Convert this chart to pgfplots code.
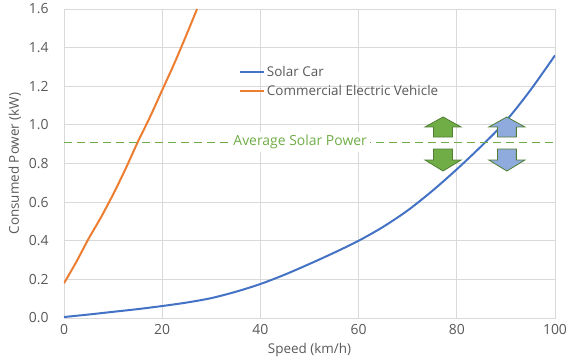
\documentclass[border=0pt]{standalone}
\usepackage{pgfplots}
\pgfplotsset{compat=1.18}
\usepackage{fontspec}
\setmainfont{Open Sans}
\definecolor{cblue}{HTML}{4472C4}
\definecolor{corange}{HTML}{ED7D31}
\definecolor{cgreen}{HTML}{70AD47}
\definecolor{cgreendark}{HTML}{507E32}
\definecolor{clblue}{HTML}{8FAADC}
\definecolor{ctext}{HTML}{595959}
\definecolor{cgrid}{HTML}{D9D9D9}
\begin{document}
\begin{tikzpicture}
\useasboundingbox (-64bp,-46bp) rectangle (519bp,318bp);
\begin{axis}[
  at={(0,0)}, anchor=south west,
  scale only axis, width=491bp, height=309bp,
  xmin=0, xmax=100, ymin=0, ymax=1.6,
  xtick={0,20,...,100}, ytick={0,0.2,...,1.6},
  yticklabel style={/pgf/number format/fixed,/pgf/number format/fixed zerofill,/pgf/number format/precision=1},
  /pgf/number format/assume math mode=true,
  tick label style={font=\fontsize{14}{16}\selectfont, text=ctext},
  xticklabel style={yshift=-3bp},
  yticklabel style={xshift=-12bp},
  major tick length=0pt,
  grid=major, grid style={cgrid, line width=0.9bp},
  axis line style={draw=cgrid, line width=0.9bp},
  xlabel={Speed (km/h)}, ylabel={Consumed Power (kW)},
  label style={font=\fontsize{13.5}{15}\selectfont, text=ctext},
  xlabel style={yshift=-2bp},
  ylabel style={yshift=1bp},
  legend style={at={(axis description cs:0.356,0.827)}, anchor=north west, draw=none, fill=none,
    font=\fontsize{13.5}{15}\selectfont, text=ctext, row sep=3bp,
    legend cell align=left, inner xsep=0pt},
  legend image code/.code={\draw[#1] (0bp,0bp) -- (24bp,0bp);},
  clip=true,
]
\addplot[cblue, line width=2bp, smooth] coordinates {
(0,0.005) (5,0.018) (10,0.032) (15,0.046) (20,0.062) (25,0.080) (30,0.103) (35,0.136) (40,0.176) (45,0.225) (50,0.28) (55,0.338) (60,0.40) (65,0.472) (70,0.557) (75,0.658) (80,0.77) (85,0.89) (90,1.02) (95,1.18) (100,1.36)};
\addlegendentry{Solar Car}
\addplot[corange, line width=2bp, smooth] coordinates {
(0,0.18) (2.5,0.29) (5,0.41) (7.5,0.52) (10,0.64) (12.5,0.77) (15,0.91) (17.5,1.04) (20,1.18) (22.5,1.32) (25,1.47) (27.1,1.6)};
\addlegendentry{Commercial Electric Vehicle}
\addplot[cgreen, line width=1.5bp, dash pattern=on 8bp off 5bp, forget plot] coordinates {(0,0.91) (100,0.91)};
\node[fill=white, text=cgreen, font=\fontsize{14}{16}\selectfont, inner sep=3bp] at (axis cs:48.1,0.91) {Average Solar Power};
% green arrows
\filldraw[fill=cgreen, draw=cgreendark, line width=0.8bp]
  (axis cs:77.2,1.041) -- (axis cs:80.87,0.989) -- (axis cs:79.13,0.989) -- (axis cs:79.13,0.937)
  -- (axis cs:75.27,0.937) -- (axis cs:75.27,0.989) -- (axis cs:73.53,0.989) -- cycle;
\filldraw[fill=cgreen, draw=cgreendark, line width=0.8bp]
  (axis cs:77.2,0.761) -- (axis cs:80.87,0.818) -- (axis cs:79.13,0.818) -- (axis cs:79.13,0.875)
  -- (axis cs:75.27,0.875) -- (axis cs:75.27,0.818) -- (axis cs:73.53,0.818) -- cycle;
% blue arrows
\filldraw[fill=clblue, draw=cgreendark, line width=0.8bp]
  (axis cs:90.2,1.041) -- (axis cs:93.87,0.989) -- (axis cs:92.13,0.989) -- (axis cs:92.13,0.937)
  -- (axis cs:88.27,0.937) -- (axis cs:88.27,0.989) -- (axis cs:86.53,0.989) -- cycle;
\filldraw[fill=clblue, draw=cgreendark, line width=0.8bp]
  (axis cs:90.2,0.761) -- (axis cs:93.87,0.818) -- (axis cs:92.13,0.818) -- (axis cs:92.13,0.875)
  -- (axis cs:88.27,0.875) -- (axis cs:88.27,0.818) -- (axis cs:86.53,0.818) -- cycle;
\end{axis}
\end{tikzpicture}
\end{document}
